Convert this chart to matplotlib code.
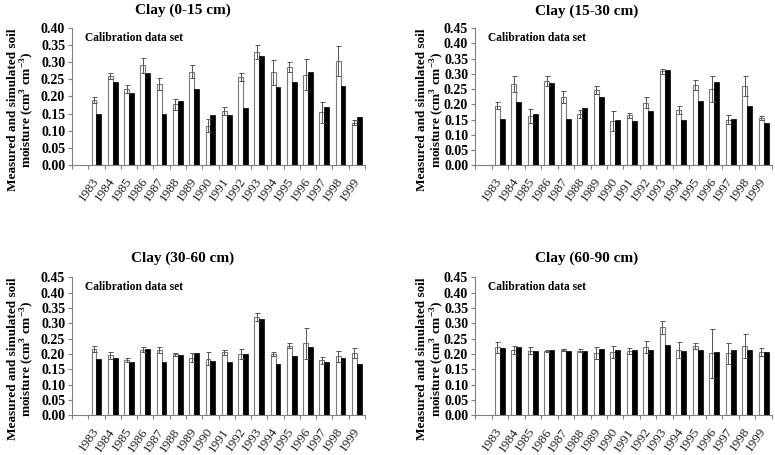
import matplotlib
matplotlib.use('Agg')
import matplotlib.pyplot as plt
import numpy as np

plt.rcParams['font.family'] = ['Liberation Serif', 'DejaVu Serif']
plt.rcParams['mathtext.fontset'] = 'custom'
plt.rcParams['mathtext.rm'] = 'Liberation Serif:bold'
plt.rcParams['mathtext.bf'] = 'Liberation Serif:bold'

years = [str(y) for y in range(1983, 2000)]

titles = ['Clay (0-15 cm)', 'Clay (15-30 cm)', 'Clay (30-60 cm)', 'Clay (60-90 cm)']
ymax = [0.40, 0.45, 0.45, 0.45]

meas_0_15 = [0.189, 0.260, 0.223, 0.291, 0.236, 0.177, 0.273, 0.114, 0.157, 0.256, 0.330, 0.271, 0.286, 0.264, 0.153, 0.303, 0.123]
err_0_15 = [0.009, 0.010, 0.012, 0.021, 0.018, 0.017, 0.018, 0.019, 0.011, 0.012, 0.021, 0.036, 0.014, 0.046, 0.030, 0.044, 0.007]
sim_0_15 = [0.148, 0.242, 0.209, 0.268, 0.148, 0.186, 0.221, 0.145, 0.145, 0.165, 0.320, 0.227, 0.242, 0.272, 0.169, 0.232, 0.139]

meas_15_30 = [0.196, 0.268, 0.161, 0.276, 0.224, 0.168, 0.247, 0.146, 0.164, 0.205, 0.308, 0.180, 0.264, 0.250, 0.149, 0.261, 0.156]
err_15_30 = [0.010, 0.026, 0.024, 0.016, 0.021, 0.013, 0.014, 0.033, 0.009, 0.018, 0.008, 0.013, 0.017, 0.042, 0.015, 0.033, 0.007]
sim_15_30 = [0.151, 0.208, 0.167, 0.269, 0.151, 0.189, 0.225, 0.149, 0.145, 0.179, 0.313, 0.147, 0.212, 0.274, 0.151, 0.193, 0.139]

meas_30_60 = [0.215, 0.196, 0.179, 0.214, 0.212, 0.199, 0.187, 0.185, 0.205, 0.199, 0.320, 0.200, 0.227, 0.235, 0.179, 0.193, 0.202]
err_30_60 = [0.010, 0.011, 0.007, 0.007, 0.010, 0.005, 0.015, 0.022, 0.007, 0.016, 0.012, 0.007, 0.009, 0.051, 0.012, 0.018, 0.016]
sim_30_60 = [0.182, 0.187, 0.173, 0.216, 0.173, 0.197, 0.204, 0.178, 0.173, 0.200, 0.314, 0.166, 0.193, 0.222, 0.175, 0.187, 0.166]

meas_60_90 = [0.221, 0.213, 0.211, 0.210, 0.213, 0.211, 0.202, 0.207, 0.209, 0.223, 0.287, 0.213, 0.225, 0.202, 0.202, 0.226, 0.205]
err_60_90 = [0.017, 0.013, 0.010, 0.004, 0.004, 0.006, 0.020, 0.019, 0.009, 0.019, 0.022, 0.026, 0.009, 0.080, 0.035, 0.038, 0.013]
sim_60_90 = [0.218, 0.224, 0.211, 0.213, 0.208, 0.211, 0.217, 0.213, 0.212, 0.212, 0.230, 0.208, 0.212, 0.205, 0.214, 0.214, 0.205]

measured = [meas_0_15, meas_15_30, meas_30_60, meas_60_90]
errors = [err_0_15, err_15_30, err_30_60, err_60_90]
simulated = [sim_0_15, sim_15_30, sim_30_60, sim_60_90]

fig = plt.figure(figsize=(7.75, 4.55), dpi=100)

# axes boxes [left, bottom, width, height], title pos, ylabel pos
boxes = [[0.093, 0.638, 0.378, 0.300], [0.613, 0.637, 0.383, 0.301],
         [0.093, 0.0875, 0.378, 0.303], [0.613, 0.0875, 0.383, 0.303]]
title_xy = [(0.236, 0.978), (0.757, 0.976), (0.236, 0.433), (0.757, 0.432)]
ylab_xy = [(0.0277, 0.758), (0.556, 0.758), (0.0277, 0.211), (0.556, 0.211)]

ylabel = 'Measured and simulated soil\nmoisture (cm$^{3}$ cm$^{-3}$)'
x = np.arange(len(years))
w = 0.3

for i in range(4):
    ax = fig.add_axes(boxes[i])
    ax.bar(x - w / 2, measured[i], w, color='white', edgecolor='#7a7a7a', linewidth=0.8)
    ax.errorbar(x - w / 2, measured[i], yerr=errors[i], fmt='none', ecolor='#555555',
                elinewidth=0.7, capsize=1.8, capthick=0.7)
    ax.bar(x + w / 2, simulated[i], w, color='black', edgecolor='black', linewidth=0.5)

    ax.set_xlim(-1.5, len(years) - 0.5)
    ax.set_ylim(0, ymax[i])
    ax.set_yticks(np.arange(0, ymax[i] + 0.001, 0.05))
    ax.set_yticklabels(['%.2f' % v for v in np.arange(0, ymax[i] + 0.001, 0.05)],
                       fontweight='bold', fontsize=10)
    ax.set_xticks(np.arange(-1.5, len(years), 1.0))
    ax.set_xticklabels([])
    ax.set_xticks(x, minor=True)
    ax.set_xticklabels(years, minor=True, rotation=55, ha='right', va='center',
                       rotation_mode='anchor', fontsize=9.5, color='#222222')
    ax.tick_params(axis='x', which='minor', length=0, pad=10)
    ax.tick_params(axis='both', which='major', length=3, color='#808080', pad=2)
    for s in ['top', 'right']:
        ax.spines[s].set_visible(False)
    for s in ['left', 'bottom']:
        ax.spines[s].set_color('#808080')
        ax.spines[s].set_linewidth(0.8)

    ax.text(0.044, 0.93, 'Calibration data set', transform=ax.transAxes,
            fontsize=8.3, fontweight='bold', va='center', ha='left')

    fig.text(title_xy[i][0], title_xy[i][1], titles[i], fontsize=11, fontweight='bold',
             ha='center', va='center')
    fig.text(ylab_xy[i][0], ylab_xy[i][1], ylabel, fontsize=9.5, fontweight='bold',
             rotation=90, ha='center', va='center', multialignment='center', linespacing=1.0)

plt.savefig('out.png', dpi=100)
